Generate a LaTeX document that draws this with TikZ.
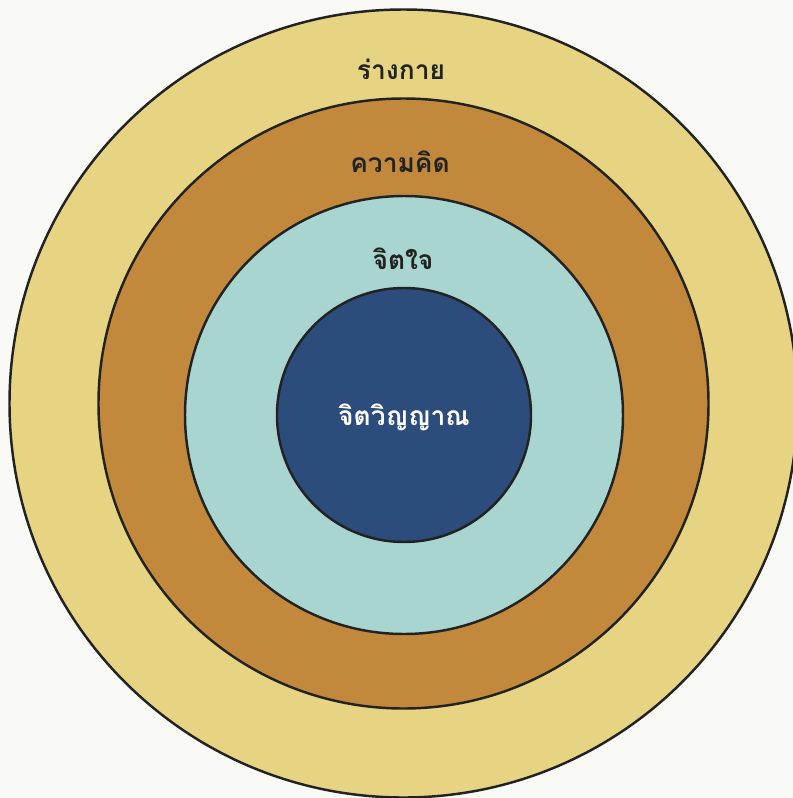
\documentclass[tikz,border=0pt]{standalone}
\usepackage{fontspec}
\newfontfamily\thaifont[Script=Thai]{Loma}
\definecolor{paper}{HTML}{F9F9F5}
\definecolor{bodycol}{HTML}{E6D482}
\definecolor{thoughtcol}{HTML}{C2893D}
\definecolor{mindcol}{HTML}{A8D5CF}
\definecolor{spiritcol}{HTML}{2C4C7C}
\definecolor{inkcol}{HTML}{222222}
\tikzset{
    ring/.style={draw=inkcol, line width=1.4pt},
    layer label/.style={font=\thaifont\bfseries\fontsize{15}{17}\selectfont, text=inkcol}
}

\begin{document}
\begin{tikzpicture}[x=0.02cm, y=-0.02cm]
\useasboundingbox[fill=paper] (0,0) rectangle (793,798);
\clip (0,0) rectangle (793,798);
% layers, outside in
\filldraw[ring, fill=bodycol] (403.5,403.5) circle[radius=394];
\filldraw[ring, fill=thoughtcol] (403.5,403.5) circle[radius=305];
\filldraw[ring, fill=mindcol] (404,415) circle[radius=219];
\filldraw[ring, fill=spiritcol] (404,415) circle[radius=127];
% labels
\node[layer label] (body) at (401,69) {ร่างกาย};
\node[layer label] (thought) at (400,162) {ความคิด};
\node[layer label] (mind) at (403,259) {จิตใจ};
\node[layer label, text=white] (spirit) at (404,417) {จิตวิญญาณ};
\end{tikzpicture}
\end{document}
